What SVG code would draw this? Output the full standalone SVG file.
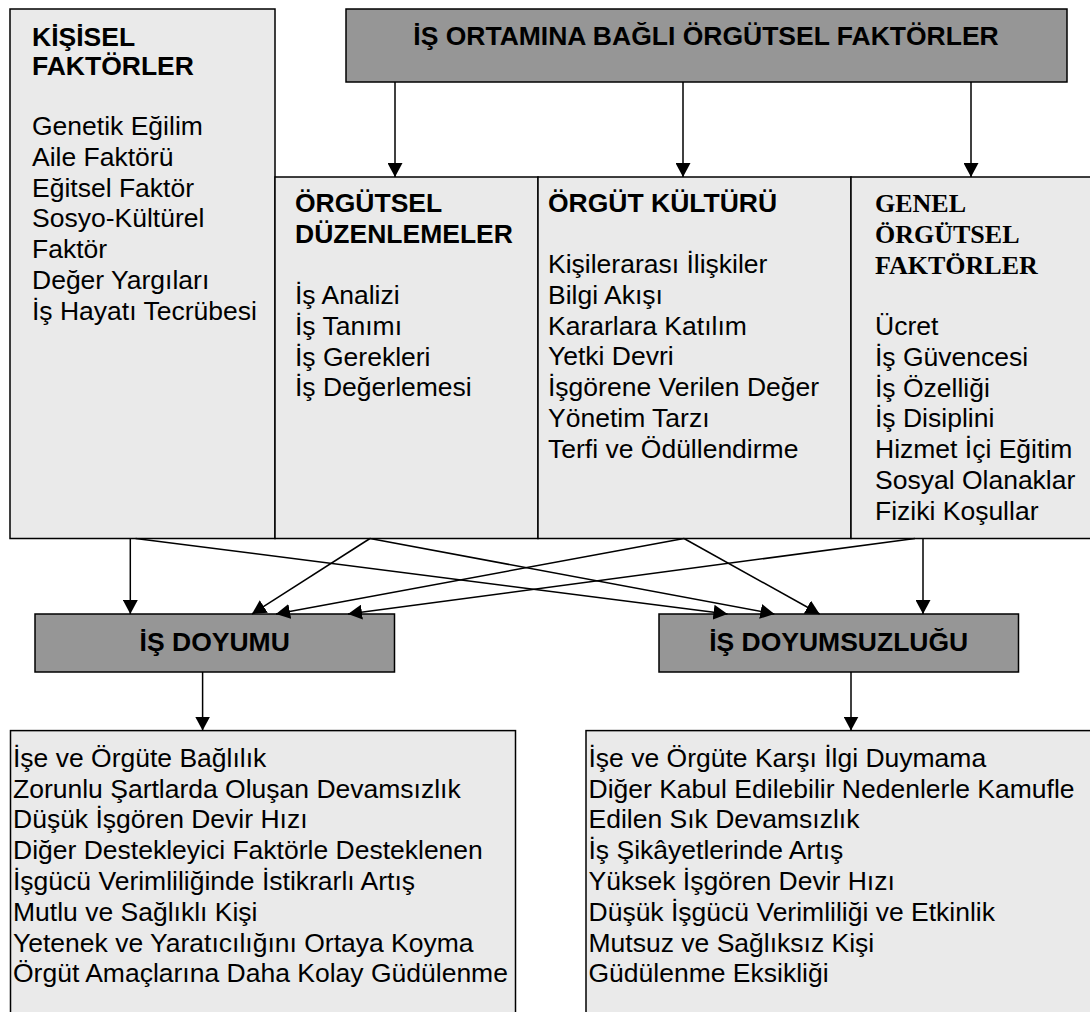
<svg xmlns="http://www.w3.org/2000/svg" width="1090" height="1012" viewBox="0 0 1090 1012">
<defs>
<style>
.box{fill:#eaeaea;stroke:#000;stroke-width:1.5}
.dark{fill:#969696;stroke:#000;stroke-width:1.5}
.t{font-family:"Liberation Sans",Arial,sans-serif;font-size:26.5px;fill:#000}
.b{font-family:"Liberation Sans",Arial,sans-serif;font-size:26.5px;font-weight:bold;fill:#000}
.s{font-family:"Liberation Serif","Times New Roman",serif;font-size:26px;font-weight:bold;fill:#000}
.c{text-anchor:middle}
.ln{stroke:#000;stroke-width:1.5;fill:none;marker-end:url(#ah)}
</style>
<marker id="ah" viewBox="0 0 14 15" refX="14" refY="7.5" markerWidth="14" markerHeight="15" markerUnits="userSpaceOnUse" orient="auto">
<path d="M0,0 L14,7.5 L0,15 z" fill="#000"/>
</marker>
</defs>
<rect width="1090" height="1012" fill="#fff"/>

<g id="kisisel">
<rect class="box" x="10" y="9" width="265" height="529.5"/>
<text class="b" x="32" y="46">KİŞİSEL</text>
<text class="b" x="32" y="75">FAKTÖRLER</text>
<text class="t" x="32" y="135">Genetik Eğilim</text>
<text class="t" x="32" y="165.8">Aile Faktörü</text>
<text class="t" x="32" y="196.6">Eğitsel Faktör</text>
<text class="t" x="32" y="227.4">Sosyo-Kültürel</text>
<text class="t" x="32" y="258.2">Faktör</text>
<text class="t" x="32" y="289">Değer Yargıları</text>
<text class="t" x="32" y="319.8">İş Hayatı Tecrübesi</text>
</g>

<g id="is-ortamina">
<rect class="dark" x="346" y="9" width="721" height="73"/>
<text class="b c" x="706" y="45">İŞ ORTAMINA BAĞLI ÖRGÜTSEL FAKTÖRLER</text>
</g>

<g id="orgutsel-duzenlemeler">
<rect class="box" x="275" y="177" width="263" height="361.5"/>
<text class="b" x="295" y="211.7">ÖRGÜTSEL</text>
<text class="b" x="295" y="242.5">DÜZENLEMELER</text>
<text class="t" x="295" y="304">İş Analizi</text>
<text class="t" x="295" y="334.8">İş Tanımı</text>
<text class="t" x="295" y="365.6">İş Gerekleri</text>
<text class="t" x="295" y="396.4">İş Değerlemesi</text>
</g>

<g id="orgut-kulturu">
<rect class="box" x="538" y="177" width="313" height="361.5"/>
<text class="b" x="548" y="211.7">ÖRGÜT KÜLTÜRÜ</text>
<text class="t" x="548" y="273">Kişilerarası İlişkiler</text>
<text class="t" x="548" y="303.8">Bilgi Akışı</text>
<text class="t" x="548" y="334.6">Kararlara Katılım</text>
<text class="t" x="548" y="365.4">Yetki Devri</text>
<text class="t" x="548" y="396.2">İşgörene Verilen Değer</text>
<text class="t" x="548" y="427">Yönetim Tarzı</text>
<text class="t" x="548" y="457.8">Terfi ve Ödüllendirme</text>
</g>

<g id="genel-orgutsel">
<rect class="box" x="851" y="177" width="250" height="361.5"/>
<text class="s" x="875" y="212">GENEL</text>
<text class="s" x="875" y="242.8">ÖRGÜTSEL</text>
<text class="s" x="875" y="273.6">FAKTÖRLER</text>
<text class="t" x="875" y="335">Ücret</text>
<text class="t" x="875" y="365.8">İş Güvencesi</text>
<text class="t" x="875" y="396.6">İş Özelliği</text>
<text class="t" x="875" y="427.4">İş Disiplini</text>
<text class="t" x="875" y="458.2">Hizmet İçi Eğitim</text>
<text class="t" x="875" y="489">Sosyal Olanaklar</text>
<text class="t" x="875" y="519.8">Fiziki Koşullar</text>
</g>

<g id="is-doyumu">
<rect class="dark" x="35" y="614" width="359.5" height="58"/>
<text class="b c" x="214.7" y="651">İŞ DOYUMU</text>
</g>

<g id="is-doyumsuzlugu">
<rect class="dark" x="659" y="614" width="359.5" height="58"/>
<text class="b c" x="838.7" y="651">İŞ DOYUMSUZLUĞU</text>
</g>

<g id="doyum-sonuclari">
<rect class="box" x="10.5" y="730.6" width="505" height="300"/>
<text class="t" x="13" y="766.7">İşe ve Örgüte Bağlılık</text>
<text class="t" x="13" y="797.5">Zorunlu Şartlarda Oluşan Devamsızlık</text>
<text class="t" x="13" y="828.3">Düşük İşgören Devir Hızı</text>
<text class="t" x="13" y="859.1">Diğer Destekleyici Faktörle Desteklenen</text>
<text class="t" x="13" y="889.9">İşgücü Verimliliğinde İstikrarlı Artış</text>
<text class="t" x="13" y="920.7">Mutlu ve Sağlıklı Kişi</text>
<text class="t" x="13" y="951.5">Yetenek ve Yaratıcılığını Ortaya Koyma</text>
<text class="t" x="13" y="982.3">Örgüt Amaçlarına Daha Kolay Güdülenme</text>
</g>

<g id="doyumsuzluk-sonuclari">
<rect class="box" x="586" y="730.6" width="520" height="300"/>
<text class="t" x="588.5" y="766.7">İşe ve Örgüte Karşı İlgi Duymama</text>
<text class="t" x="588.5" y="797.5">Diğer Kabul Edilebilir Nedenlerle Kamufle</text>
<text class="t" x="588.5" y="828.3">Edilen Sık Devamsızlık</text>
<text class="t" x="588.5" y="859.1">İş Şikâyetlerinde Artış</text>
<text class="t" x="588.5" y="889.9">Yüksek İşgören Devir Hızı</text>
<text class="t" x="588.5" y="920.7">Düşük İşgücü Verimliliği ve Etkinlik</text>
<text class="t" x="588.5" y="951.5">Mutsuz ve Sağlıksız Kişi</text>
<text class="t" x="588.5" y="982.3">Güdülenme Eksikliği</text>
</g>

<g id="connectors">
<line class="ln" x1="395" y1="82" x2="395" y2="177"/>
<line class="ln" x1="683" y1="82" x2="683" y2="177"/>
<line class="ln" x1="971" y1="82" x2="971" y2="177"/>
<line class="ln" x1="130.3" y1="538.5" x2="130.3" y2="614"/>
<line class="ln" x1="135.6" y1="538.5" x2="727.5" y2="614"/>
<line class="ln" x1="370" y1="538.5" x2="252" y2="614"/>
<line class="ln" x1="370" y1="538.5" x2="774.4" y2="614"/>
<line class="ln" x1="684" y1="538.5" x2="276" y2="614"/>
<line class="ln" x1="684" y1="538.5" x2="819.6" y2="614"/>
<line class="ln" x1="915" y1="538.5" x2="348" y2="614"/>
<line class="ln" x1="923" y1="538.5" x2="923" y2="614"/>
<line class="ln" x1="202.6" y1="672" x2="202.6" y2="730.6"/>
<line class="ln" x1="851" y1="672" x2="851" y2="730.6"/>
</g>
</svg>
